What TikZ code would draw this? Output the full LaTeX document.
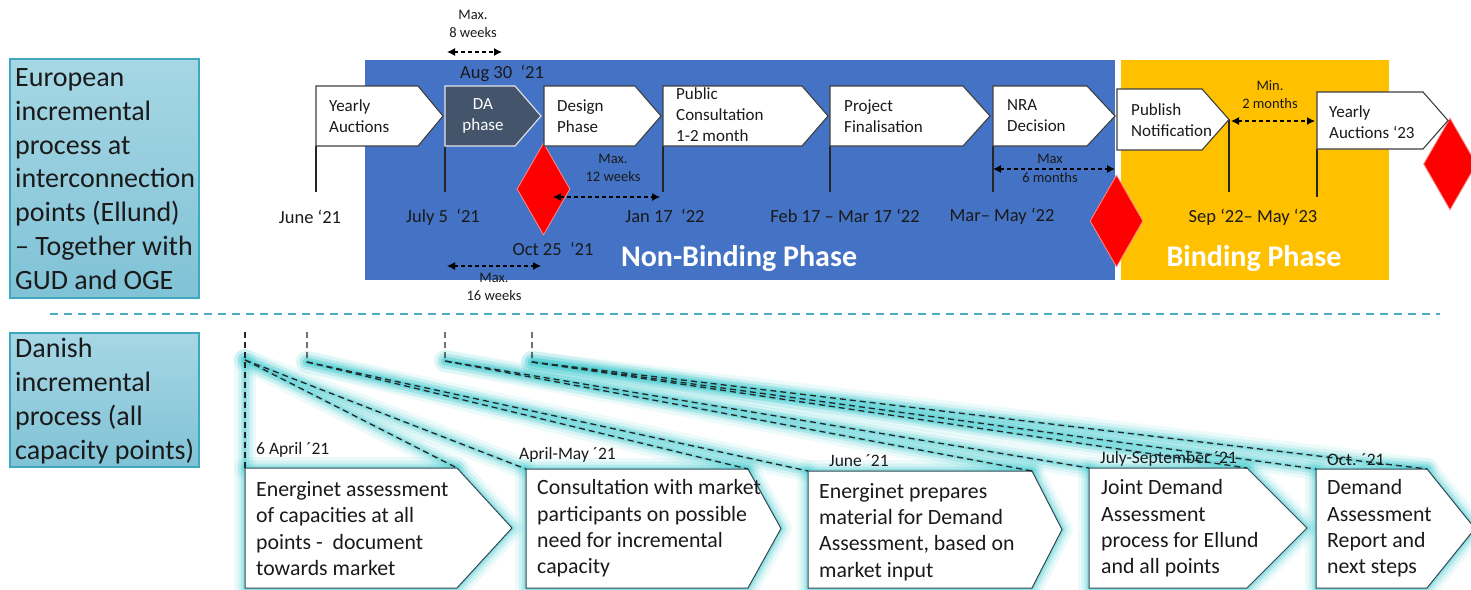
\documentclass[tikz,border=0pt]{standalone}
\usepackage{fontspec}
\setmainfont{Carlito}
\usetikzlibrary{shapes.geometric,arrows.meta,calc}
\definecolor{nbblue}{HTML}{4472C4}
\definecolor{bgold}{HTML}{FFC000}
\definecolor{daslate}{HTML}{44546A}
\definecolor{tealline}{HTML}{4BACC6}
\definecolor{glowc}{RGB}{60,200,205}
\definecolor{lbltop}{RGB}{166,215,229}
\definecolor{lblbot}{RGB}{128,194,214}
\definecolor{lblborder}{RGB}{62,168,192}
\definecolor{boxline}{HTML}{3F3F3F}
\definecolor{btmline}{RGB}{50,72,82}
\definecolor{txtc}{HTML}{1A1A1A}
\newcommand\pentcoords[6]{%
  \coordinate (#1-tl) at (#2,#3);
  \coordinate (#1-tr) at (#5,#3);
  \coordinate (#1-tip) at (#6,{(#3+#4)/2});
  \coordinate (#1-br) at (#5,#4);
  \coordinate (#1-bl) at (#2,#4);}
\newcommand\pentpath[2]{\path[#2] (#1-tl) -- (#1-tr) -- (#1-tip) -- (#1-br) -- (#1-bl) -- cycle;}
\tikzset{
  tlbox/.style={fill=white, draw=boxline, line width=1.1pt, line join=miter},
  dabox/.style={fill=daslate, draw=white!80!gray, line width=1.1pt},
  btmbox/.style={fill=white, draw=btmline, line width=1pt},
  glowA/.style={draw=glowc, line width=22pt, opacity=0.09, line join=round, line cap=round},
  glowB/.style={draw=glowc, line width=15pt, opacity=0.14, line join=round, line cap=round},
  glowC/.style={draw=glowc, line width=9pt, opacity=0.22, line join=round, line cap=round},
  glowD/.style={draw=glowc, line width=4pt, opacity=0.3, line join=round, line cap=round},
  lblbox/.style={top color=lbltop, bottom color=lblbot, draw=lblborder, line width=1.2pt},
  lbltext/.style={inner sep=0pt, align=left, text=txtc, font=\fontsize{28}{33.8}\selectfont},
  tltext/.style={inner sep=0pt, align=left, text=txtc, font=\fontsize{17}{21}\selectfont},
  datext/.style={inner sep=0pt, align=center, text=white, font=\fontsize{17}{21}\selectfont},
  datelbl/.style={inner sep=0pt, text=txtc, font=\fontsize{18.5}{22}\selectfont},
  dimlbl/.style={inner sep=0pt, align=center, text=txtc, font=\fontsize{14.5}{18.5}\selectfont},
  phaselbl/.style={inner sep=0pt, text=white, font=\bfseries\fontsize{30}{34}\selectfont},
  btext/.style={inner sep=0pt, align=left, text=txtc, font=\fontsize{21.8}{26.3}\selectfont},
  bdate/.style={inner sep=0pt, text=txtc, font=\fontsize{17.5}{21}\selectfont},
  tick/.style={draw=black!85, line width=1.1pt},
  dimarrow/.style={draw=black, line width=1.1pt, dash pattern=on 4pt off 3pt,
     arrows={Latex[length=8pt,width=8pt]-Latex[length=8pt,width=8pt]}},
  sepline/.style={draw=tealline, line width=2pt, dash pattern=on 8pt off 6pt},
  dline/.style={draw=black!85, line width=1.3pt, dash pattern=on 6pt off 4pt},
  redd/.style={shape=diamond, fill=red, draw={rgb,255:red,255;green,140;blue,140},
     line width=0.8pt, inner sep=0pt, minimum width=53pt, minimum height=92pt},
}
\begin{document}
\begin{tikzpicture}[x=1pt,y=-1pt]
\useasboundingbox (0,0) rectangle (1471,589);
% phase backgrounds
\fill[nbblue] (365,60) rectangle (1115,280);
\fill[bgold] (1121,60) rectangle (1389,280);
\node[phaselbl] (nbp) at (739,259) {Non-Binding Phase};
\node[phaselbl] (bp) at (1254,259) {Binding Phase};

% left labels
\path[lblbox] (10,59) rectangle (199,298);
\node[lbltext, anchor=west] (eu) at (15,179) {European\\incremental\\process at\\interconnection\\points (Ellund)\\– Together with\\GUD and OGE};
\path[lblbox] (10,333) rectangle (199,467);
\node[lbltext, anchor=west] (dk) at (15,401) {Danish\\incremental\\process (all\\capacity points)};

% separator
\coordinate (sepL) at (50,314);
\coordinate (sepR) at (1440,314);
\draw[sepline] (sepL) -- (sepR);

% top timeline
\pentcoords{ya}{316}{86}{146}{418}{443}
\pentcoords{da}{445}{86}{146}{515}{541}
\pentcoords{dp}{544}{86}{146}{635}{661}
\pentcoords{pc}{663}{86}{146}{802}{828}
\pentcoords{pf}{830}{86}{146}{963}{990}
\pentcoords{nra}{993}{86}{146}{1087}{1115}
\pentcoords{pn}{1117}{89}{150}{1202}{1229}
\pentcoords{yb}{1317}{92}{149}{1423}{1448}

\coordinate (k1) at (316,192);
\coordinate (k2) at (445,192);
\coordinate (k3) at (663,192);
\coordinate (k4) at (830,192);
\coordinate (k5) at (993,192);
\coordinate (k6) at (1229,192);
\coordinate (k7) at (1317,197);
\draw[tick] (ya-bl) -- (k1);
\draw[tick] (da-bl) -- (k2);
\draw[tick] (pc-bl) -- (k3);
\draw[tick] (pf-bl) -- (k4);
\draw[tick] (nra-bl) -- (k5);
\draw[tick] (pn-tip) -- (k6);
\draw[tick] (yb-bl) -- (k7);

% diamonds
\node[redd] (d1) at (543.5,189) {};
\node[redd] (d2) at (1116.5,221) {};
\node[redd] (d3) at (1450,164) {};

\pentpath{ya}{tlbox}
\pentpath{da}{dabox}
\pentpath{dp}{tlbox}
\pentpath{pc}{tlbox}
\pentpath{pf}{tlbox}
\pentpath{nra}{tlbox}
\pentpath{pn}{tlbox}
\pentpath{yb}{tlbox}

\node[tltext, anchor=west] (yaT) at (329,116) {Yearly\\Auctions};
\node[datext] (daT) at (483,116) {DA\\phase};
\node[tltext, anchor=west] (dpT) at (557,116) {Design\\Phase};
\node[tltext, anchor=west] (pcT) at (676,115) {Public\\Consultation\\1-2 month};
\node[tltext, anchor=west] (pfT) at (844,116) {Project\\Finalisation};
\node[tltext, anchor=west] (nraT) at (1007,116) {NRA\\Decision};
\node[tltext, anchor=west] (pnT) at (1131,120) {Publish\\Notification};
\node[tltext, anchor=west] (ybT) at (1329,122) {Yearly\\Auctions ‘23};

% dates
\node[datelbl] (dJun) at (310,217) {June ‘21};
\node[datelbl] (dJul) at (443,217) {July 5~ ‘21};
\node[datelbl] (dAug) at (502,73) {Aug 30~ ‘21};
\node[datelbl] (dOct) at (553,249) {Oct 25~ ‘21};
\node[datelbl] (dJan) at (665,216) {Jan 17~ ‘22};
\node[datelbl] (dFeb) at (845,216) {Feb 17 – Mar 17 ‘22};
\node[datelbl] (dMar) at (1002,216) {Mar– May ‘22};
\node[datelbl] (dSep) at (1253,217) {Sep ‘22– May ‘23};

% dimension arrows
\coordinate (a8l) at (447,52);
\coordinate (a8r) at (502,52);
\draw[dimarrow] (a8l) -- (a8r);
\node[dimlbl] (m8) at (473,24) {Max.\\8 weeks};
\coordinate (a12l) at (553,197);
\coordinate (a12r) at (660,197);
\draw[dimarrow] (a12l) -- (a12r);
\node[dimlbl] (m12) at (613,168) {Max.\\12 weeks};
\coordinate (a16l) at (447,266);
\coordinate (a16r) at (541,266);
\draw[dimarrow] (a16l) -- (a16r);
\node[dimlbl] (m16) at (494,287) {Max.\\16 weeks};
\coordinate (a6l) at (993,169);
\coordinate (a6r) at (1115,169);
\draw[dimarrow] (a6l) -- (a6r);
\node[dimlbl] (m6) at (1050,168.5) {Max\\6 months};
\coordinate (a2l) at (1231,121);
\coordinate (a2r) at (1315,121);
\draw[dimarrow] (a2l) -- (a2r);
\node[dimlbl] (m2) at (1270,94.5) {Min.\\2 months};

% bottom section
\pentcoords{b1}{245}{468}{588}{457}{512}
\pentcoords{b2}{526}{469}{588}{748}{781}
\pentcoords{b3}{808}{471}{588}{1032}{1062}
\pentcoords{b4}{1089}{468}{588}{1247}{1307}
\pentcoords{b5}{1316}{469}{588}{1427}{1475}

\coordinate (v1t) at (245,332);
\coordinate (v1k) at (245,360);
\coordinate (v2t) at (307,332);
\coordinate (v2k) at (307,362);
\coordinate (v3t) at (445,332);
\coordinate (v3k) at (445,361);
\coordinate (v4t) at (532,332);
\coordinate (v4k) at (532,362);

% glows
\foreach \g in {glowA,glowB,glowC,glowD}{
  \draw[\g] (v1k) -- (b1-tl);
  \draw[\g] (v1k) -- (b1-tr);
  \draw[\g] (v1k) -- (b2-tl);
  \draw[\g] (v2k) -- (b2-tr);
  \draw[\g] (v2k) -- (b3-tl);
  \draw[\g] (v3k) -- (b3-tr);
  \draw[\g] (v3k) -- (b4-tl);
  \draw[\g] (v4k) -- (b4-tr);
  \draw[\g] (v4k) -- (b5-tl);
  \draw[\g] (v4k) -- (b5-tr);
}
\foreach \b in {b1,b2,b3,b4,b5}{
  \pentpath{\b}{glowA}
  \pentpath{\b}{glowB}
  \pentpath{\b}{glowC}
  \pentpath{\b}{glowD}
}
\foreach \b in {b1,b2,b3,b4,b5}{
  \pentpath{\b}{btmbox}
}

% dashed connectors
\draw[dline] (v1t) -- (b1-tl);
\draw[dline] (v1k) -- (b1-tr);
\draw[dline] (v1k) -- (b2-tl);
\draw[dline] (v2t) -- (v2k) -- (b2-tr);
\draw[dline] (v2k) -- (b3-tl);
\draw[dline] (v3t) -- (v3k) -- (b3-tr);
\draw[dline] (v3k) -- (b4-tl);
\draw[dline] (v4t) -- (v4k) -- (b4-tr);
\draw[dline] (v4k) -- (b5-tl);
\draw[dline] (v4k) -- (b5-tr);

% bottom texts
\node[btext, anchor=west] (b1T) at (256,528.5) {Energinet assessment\\of capacities at all\\points -~ document\\towards market};
\node[btext, anchor=west] (b2T) at (537,528.5) {Consultation with market\\participants on possible\\need for incremental\\capacity};
\node[btext, anchor=west] (b3T) at (819,532) {Energinet prepares\\material for Demand\\Assessment, based on\\market input};
\node[btext, anchor=west] (b4T) at (1101,528.5) {Joint Demand\\Assessment\\process for Ellund\\and all points};
\node[btext, anchor=west] (b5T) at (1327,528.5) {Demand\\Assessment\\Report and\\next steps};

\node[bdate, anchor=west] (bd1) at (256,450) {6 April ´21};
\node[bdate, anchor=west] (bd2) at (519,455) {April-May ´21};
\node[bdate, anchor=west] (bd3) at (829,461) {June ´21};
\node[bdate, anchor=west] (bd4) at (1100,459) {July-September ´21};
\node[bdate, anchor=west] (bd5) at (1327,460) {Oct. ´21};
\end{tikzpicture}
\end{document}
